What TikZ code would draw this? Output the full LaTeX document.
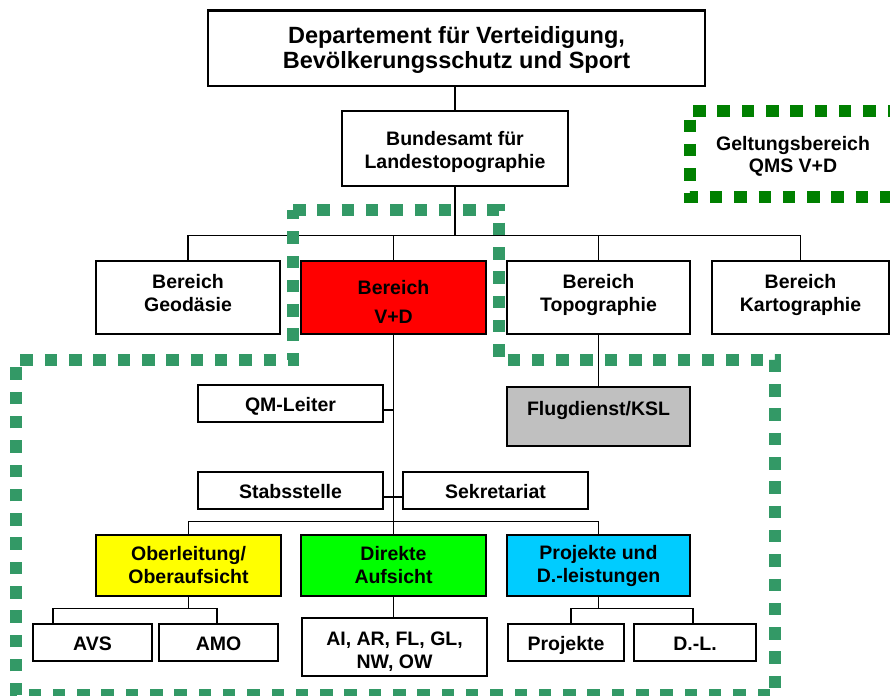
\documentclass[tikz,border=0pt]{standalone}
\usepackage{fontspec}
\setmainfont{Liberation Sans}
\definecolor{zonegreen}{HTML}{339966}
\definecolor{leggreen}{HTML}{008000}
\definecolor{pcyan}{HTML}{00CCFF}
\definecolor{fgray}{HTML}{C0C0C0}
\definecolor{pred}{HTML}{FF0000}
\definecolor{pyellow}{HTML}{FFFF00}
\definecolor{pgreen}{HTML}{00FF00}
\newcommand{\ZTop}[1]{\rule{0pt}{#1}}
\newcommand{\ZBot}[1]{\rule[-#1]{0pt}{#1}}
\begin{document}
\begin{tikzpicture}[x=1pt,y=-1pt,
  box/.style={draw, line width=1.3pt, inner sep=0pt, align=center,
    font=\bfseries\fontsize{19.5}{23}\selectfont},
  oneline/.style={text height=16.5pt, text depth=0pt},
  conn/.style={line width=1.3pt},
  zone/.style={draw=zonegreen, line width=12.5pt, dash pattern=on 12.5pt off 11.8pt},
  legzone/.style={draw=leggreen, line width=12.5pt, dash pattern=on 12.5pt off 11.8pt}]
\useasboundingbox (0,0) rectangle (890,695);
\fill[white] (0,0) rectangle (890,695);
\begin{scope}
\clip (0,0) rectangle (890,695);

% boxes
\node[box, minimum width=497pt, minimum height=75pt,
  font=\bfseries\fontsize{23.5}{25}\selectfont] (top) at (456.5,48.5)
  {\ZTop{19pt}Departement für Verteidigung,\\Bevölkerungsschutz und Sport};
\node[box, minimum width=226pt, minimum height=75pt] (bund) at (455,148.5)
  {\ZTop{22pt}Bundesamt für\\Landestopographie\ZBot{6pt}};
\node[box, minimum width=184pt, minimum height=73pt] (geo) at (188,297.5)
  {\ZTop{15pt}Bereich\\Geodäsie\ZBot{11pt}};
\node[box, fill=pred, minimum width=185pt, minimum height=73pt] (vd) at (393.5,297.5)
  {\ZTop{26pt}Bereich\\[6pt]V+D\ZBot{4pt}};
\node[box, minimum width=183pt, minimum height=73pt] (topo) at (598.5,297.5)
  {\ZTop{15pt}Bereich\\Topographie\ZBot{11pt}};
\node[box, minimum width=177pt, minimum height=73pt] (karto) at (800.5,297.5)
  {\ZTop{15pt}Bereich\\Kartographie\ZBot{11pt}};
\node[box, oneline, minimum width=185pt, minimum height=37pt] (qm) at (290.5,403.5)
  {QM-Leiter};
\node[box, fill=fgray, text height=5pt, text depth=8pt,
  minimum width=183pt, minimum height=59pt] (flug) at (598.5,416.5)
  {Flugdienst/KSL};
\node[box, oneline, minimum width=185pt, minimum height=37pt] (stab) at (290.5,490.5)
  {Stabsstelle};
\node[box, oneline, minimum width=185pt, minimum height=37pt] (sek) at (495.5,490.5)
  {Sekretariat};
\node[box, fill=pyellow, minimum width=185pt, minimum height=61pt] (ober) at (188.5,565.5)
  {Oberleitung/\\Oberaufsicht};
\node[box, fill=pgreen, minimum width=185pt, minimum height=61pt] (dir) at (393.5,565.5)
  {Direkte\\Aufsicht};
\node[box, fill=pcyan, minimum width=183pt, minimum height=61pt] (proj) at (598.5,565.5)
  {Projekte und\\D.-leistungen};
\node[box, oneline, minimum width=119pt, minimum height=37pt] (avs) at (92.5,642.5) {AVS};
\node[box, oneline, minimum width=119pt, minimum height=37pt] (amo) at (218.5,642.5) {AMO};
\node[box, minimum width=185pt, minimum height=58pt] (ai) at (394.5,647)
  {\ZTop{22pt}AI, AR, FL, GL,\\NW, OW\ZBot{3pt}};
\node[box, oneline, minimum width=116pt, minimum height=37pt] (projekte) at (566,642.5) {Projekte};
\node[box, oneline, minimum width=122pt, minimum height=37pt] (dl) at (695,642.5) {D.-L.};

\draw[line width=3pt] (top.north west) -- (top.north east);

% connectors
\draw[conn] (bund.north) -- (bund.north |- top.south);
\coordinate (bus1) at (455,236);
\draw[conn] (bund.south) -- (bus1);
\draw[conn] (geo.north) -- ++(0,-25) -| (karto.north);
\draw[conn] (vd.north) -- ++(0,-25);
\draw[conn] (topo.north) -- ++(0,-25);
\draw[conn] (topo.south) -- (flug.north);
\draw[conn] (vd.south) -- (dir.north);
\draw[conn] (qm.east |- 0,410) -- (vd.south |- 0,410);
\draw[conn] (stab.east |- 0,497) -- (sek.west |- 0,497);
\draw[conn] (ober.north) -- ++(0,-13) -| (proj.north);
\draw[conn] (ober.south) -- (ober.south |- 0,609);
\draw[conn] (avs.north -| 53,0) -- ++(0,-15) -| (amo.north -| 217,0);
\draw[conn] (ai.north -| dir.south) -- (dir.south);
\draw[conn] (proj.south) -- (proj.south |- 0,609);
\draw[conn] (projekte.north -| 571,0) -- ++(0,-15) -| (dl.north -| 693,0);

% scope zone
\draw[zone] (293,210) -- (499,210) -- (499,360) -- (775,360) -- (775,695)
  -- (16,695) -- (16,360) -- (293,360) -- cycle;

% legend
\draw[legzone] (900,111) -- (690,111) -- (690,197) -- (900,197);
\node[align=center, inner sep=0pt, font=\bfseries\fontsize{19.5}{22}\selectfont]
  (leg) at (793,156) {Geltungsbereich\\QMS V+D};
\end{scope}
\end{tikzpicture}
\end{document}
